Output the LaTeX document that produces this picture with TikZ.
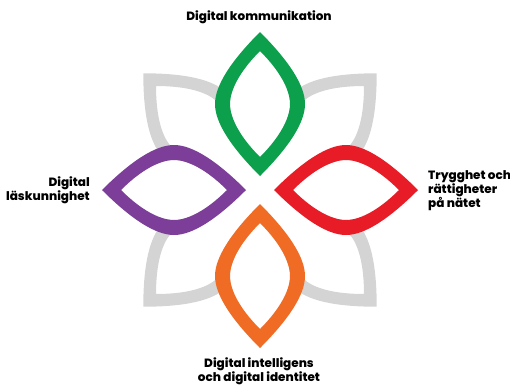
\documentclass[tikz,border=0pt]{standalone}
\usepackage{fontspec}
\setmainfont{Poppins}[BoldFont={* ExtraBold}]
\definecolor{lgreen}{RGB}{12,160,76}
\definecolor{lred}{RGB}{232,28,38}
\definecolor{lpurple}{RGB}{124,62,152}
\definecolor{lorange}{RGB}{240,108,36}
\definecolor{lgray}{RGB}{212,212,212}
% lens outline: half-length a, half-width b, tip control t, side control s
\newcommand\lensshape[4]{(#1,0) .. controls ({#1-#3},#3) and (#4,#2) .. (0,#2) .. controls ({-#4},#2) and ({-#1+#3},#3) .. ({-#1},0) .. controls ({-#1+#3},{-#3}) and ({-#4},{-#2}) .. (0,{-#2}) .. controls (#4,{-#2}) and ({#1-#3},{-#3}) .. cycle}
\newcommand\colorlens[3]{%
  \fill[white, shift={#1}, rotate=#2] \lensshape{53}{30}{20}{14};
  \fill[#3, even odd rule, shift={#1}, rotate=#2] \lensshape{72}{45}{30}{18} \lensshape{53}{30}{20}{14};}
\newcommand\graylens[2]{\fill[lgray, even odd rule, shift={#1}, rotate=#2] \lensshape{72}{45}{30}{18} \lensshape{54}{32}{21}{14};}
\tikzset{lbl/.style={font=\fontsize{12}{14}\selectfont\bfseries, inner sep=0pt, text=black}}
\begin{document}
\begin{tikzpicture}[x=1pt, y=-1pt]
\useasboundingbox (0,0) rectangle (510,384);
% gray background petals
\graylens{(194.2,124.2)}{-45}
\graylens{(325.8,124.2)}{45}
\graylens{(194.2,255.8)}{45}
\graylens{(325.8,255.8)}{-45}
\fill[white] (260,190) circle[radius=62];
% coloured petals
\colorlens{(260,104)}{90}{lgreen}
\colorlens{(346,190)}{0}{lred}
\colorlens{(174,190)}{0}{lpurple}
\colorlens{(260,276)}{90}{lorange}
% labels
\node[lbl] (top) at (259,17) {Digital kommunikation};
\node[lbl, anchor=east, align=right] (left) at (90,190) {Digital\\läskunnighet};
\node[lbl, anchor=west, align=left] (right) at (428,191) {Trygghet och\\rättigheter\\på nätet};
\node[lbl, align=center] (bottom) at (259,371) {Digital intelligens\\och digital identitet};
\end{tikzpicture}
\end{document}
